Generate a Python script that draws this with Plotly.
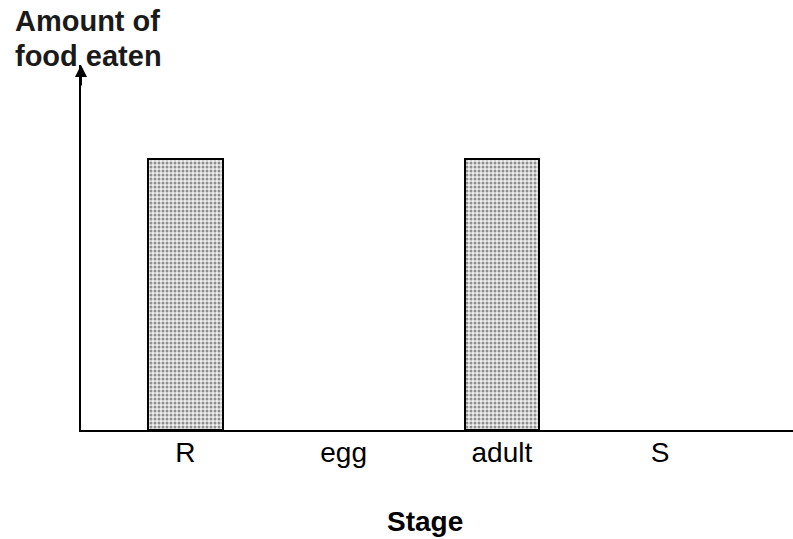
import plotly.graph_objects as go

stages = ["R", "egg", "adult", "S"]
food_eaten = [1, 0, 1, 0]
y_title_lines = ["Amount of", "food eaten"]
x_title = "Stage"

W, H = 793, 539
L, R, T, B = 81, 0, 65, 109
PW, PH = W - L - R, H - T - B

fig = go.Figure()
fig.add_trace(go.Bar(
    x=list(range(len(stages))),
    y=food_eaten,
    width=0.47,
    marker=dict(
        color="#d9d9d9",
        line=dict(color="black", width=[2 if v > 0 else 0 for v in food_eaten]),
        pattern=dict(shape=".", fgcolor="#303030", bgcolor="#eeeeee", size=4, solidity=0.45),
    ),
    showlegend=False,
))

fig.update_layout(
    width=W, height=H,
    margin=dict(l=L, r=R, t=T, b=B),
    paper_bgcolor="white", plot_bgcolor="white",
    font=dict(family="Liberation Sans, Arial, sans-serif", color="black"),
    bargap=0,
)
fig.update_xaxes(
    range=[-0.66, 3.84],
    tickmode="array",
    tickvals=list(range(len(stages))),
    ticktext=stages,
    tickfont=dict(size=28, color="black"),
    ticklabelstandoff=-4,
    showline=True, linecolor="black", linewidth=2,
    showgrid=False, zeroline=False, ticks="",
)
fig.update_yaxes(
    range=[0, 1.347],
    showticklabels=False,
    showline=True, linecolor="black", linewidth=2,
    showgrid=False, zeroline=False, ticks="",
)

# arrow on the top of the y axis
fig.add_annotation(
    x=0, y=1, xref="x domain", yref="y domain",
    ax=0, ay=22, axref="pixel", ayref="pixel",
    showarrow=True, arrowhead=2, arrowsize=1.2, arrowwidth=2, arrowcolor="black",
    text="",
)
# y title at top-left, one annotation per line
for i, line in enumerate(y_title_lines):
    top_px = 3 + 35 * i
    fig.add_annotation(
        x=(13 - L) / PW, y=1 + (T - top_px) / PH, xref="paper", yref="paper",
        xanchor="left", yanchor="top", align="left",
        text=f"<b>{line}</b>", showarrow=False,
        font=dict(size=29, color="#1a1a1a"),
    )
# x title
fig.add_annotation(
    x=(425 - L) / PW, y=-(521 - (H - B)) / PH,
    xref="paper", yref="paper", xanchor="center", yanchor="middle",
    text=f"<b>{x_title}</b>", showarrow=False,
    font=dict(size=28, color="black"),
)

fig.write_html("out.html", config={"displayModeBar": False},
               post_script="document.body.style.margin='0';")
